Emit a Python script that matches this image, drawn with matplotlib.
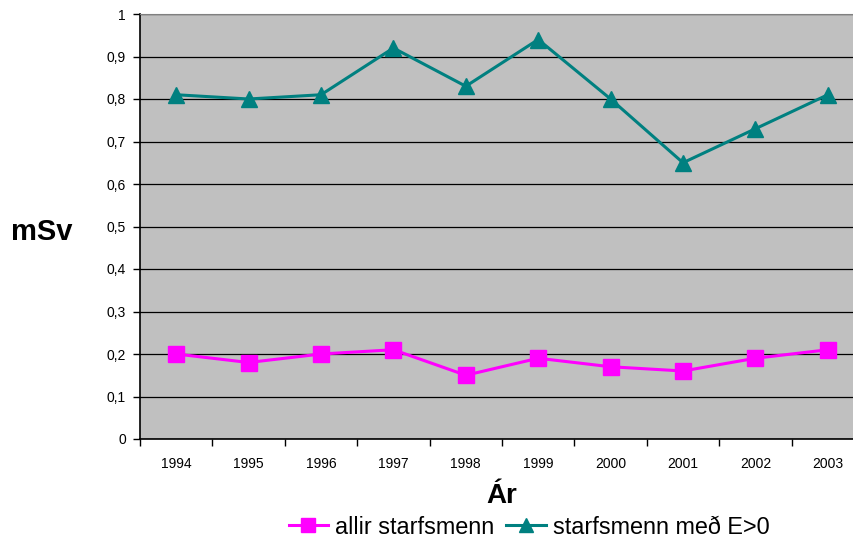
import matplotlib
matplotlib.use("Agg")
from matplotlib import pyplot as plt
from matplotlib.ticker import FixedLocator, FuncFormatter

years = ['1994', '1995', '1996', '1997', '1998', '1999', '2000', '2001', '2002', '2003']
allir = [0.20, 0.18, 0.20, 0.21, 0.15, 0.19, 0.17, 0.16, 0.19, 0.21]
med_e = [0.81, 0.80, 0.81, 0.92, 0.83, 0.94, 0.80, 0.65, 0.73, 0.81]

plt.rcParams['font.family'] = ['Liberation Sans', 'DejaVu Sans']

fig = plt.figure(figsize=(8.54, 5.46), dpi=100)
# plot area runs a little past the right edge of the picture, like the original
ax = fig.add_axes([140/854, 107/546, 724/854, 425/546])
ax.set_facecolor('#C0C0C0')

x = list(range(len(years)))
ax.plot(x, allir, color='#FF00FF', linewidth=2.2, marker='s', markersize=11.5,
        label='allir starfsmenn', zorder=3)
ax.plot(x, med_e, color='#008080', linewidth=2.2, marker='^', markersize=11.5,
        label='starfsmenn með E>0', zorder=3)

ax.set_xlim(-0.5, len(years) - 0.5)
ax.set_ylim(0, 1)
ax.set_yticks([i / 10 for i in range(11)])
ax.yaxis.set_major_formatter(FuncFormatter(lambda v, p: ('%g' % round(v, 1)).replace('.', ',')))
ax.yaxis.grid(True, color='black', linewidth=0.9)
ax.set_axisbelow(True)

ax.set_xticks(x)
ax.set_xticklabels(years)
ax.xaxis.set_minor_locator(FixedLocator([i - 0.5 for i in range(len(years) + 1)]))
ax.tick_params(axis='x', which='major', length=0, pad=13, labelsize=10)
ax.tick_params(axis='x', which='minor', length=5, width=1, direction='out')
ax.tick_params(axis='y', length=5, width=1, direction='out', labelsize=10, pad=5)

ax.spines['top'].set_color('#808080')
ax.spines['right'].set_visible(False)
ax.spines['left'].set_linewidth(1.2)
ax.spines['bottom'].set_linewidth(1.2)

fig.text(42/854, 1 - 232/546, 'mSv', fontsize=21, fontweight='bold', ha='center', va='center')
fig.text(502/854, 1 - 496/546, 'Ár', fontsize=20, fontweight='bold', ha='center', va='center')

fig.legend(loc='center', bbox_to_anchor=(529/854, 1 - 527/546), ncol=2, frameon=False,
           fontsize=16.8, handlelength=1.7, handletextpad=0.3, columnspacing=0.5,
           borderpad=0, markerscale=0.85)

fig.savefig('out.png', dpi=100)
